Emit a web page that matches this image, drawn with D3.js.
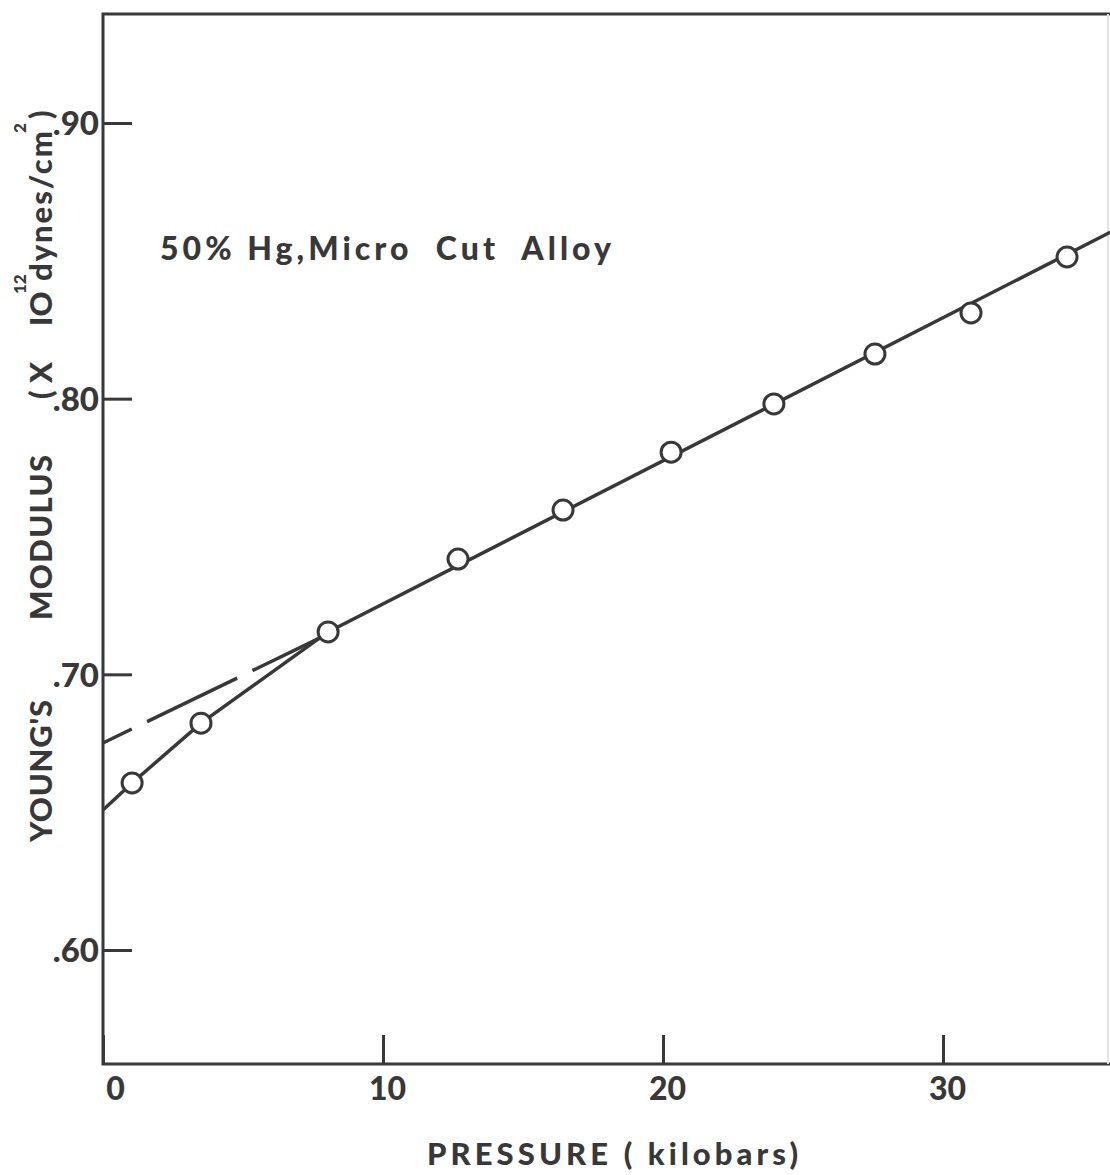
<!DOCTYPE html>
<html>
<head>
<meta charset="utf-8">
<script src="https://cdn.jsdelivr.net/npm/d3@7"></script>
<style>
  body { margin: 0; background: #fff; }
  text { font-family: Lato, "DejaVu Sans", sans-serif; font-weight: 900; fill: #383838; }
</style>
</head>
<body>
<div id="chart"></div>
<script>
// pressure (kilobars) and Young's modulus (x 10^12 dynes/cm^2) of the measured points
var pressure = [1.04, 3.5, 8.04, 12.68, 16.43, 20.29, 23.96, 27.57, 31.0, 34.43];
var modulus  = [0.6606, 0.6823, 0.7154, 0.7418, 0.7596, 0.7806, 0.7981, 0.8162, 0.8311, 0.8514];

// drawn curve through the points (solid) and the extrapolated straight part (dashed)
var fit_p = [0, 1.04, 3.5, 8.04, 36.0];
var fit_m = [0.6508, 0.6606, 0.6823, 0.7154, 0.8605];
var ext_p = [0, 7.75];
var ext_m = [0.6751, 0.7132];

var x_ticks = [0, 10, 20, 30];
var y_ticks = [0.60, 0.70, 0.80, 0.90];

var chart_width = 1110;
var chart_height = 1175;
var ink = '#383838';

var svg = d3.select('#chart')
    .append('svg')
    .attr('width', chart_width)
    .attr('height', chart_height);

// scales
var x_scale = d3.scaleLinear()
    .domain([0, 30])
    .range([103, 943]);

var y_scale = d3.scaleLinear()
    .domain([0.60, 0.90])
    .range([950, 123]);

var x_min = 0, x_max = x_scale.invert(1112);
var y_min = y_scale.invert(1064), y_max = y_scale.invert(14);

// frame
var frame = svg.append('g')
    .attr('fill', 'none')
    .attr('stroke', ink)
    .attr('stroke-width', 3);

frame.append('path')
    .attr('d', d3.line()([
        [x_scale(x_max), y_scale(y_max)],
        [x_scale(x_min), y_scale(y_max)],
        [x_scale(x_min), y_scale(y_min)],
        [x_scale(x_max), y_scale(y_min)]
    ]));

// faint right edge of the scan
svg.append('line')
    .attr('x1', 1108).attr('x2', 1108)
    .attr('y1', y_scale(y_max)).attr('y2', y_scale(y_min))
    .attr('stroke', '#e4e4e4')
    .attr('stroke-width', 2);

// axes
var x_axis = d3.axisBottom(x_scale)
    .tickValues(x_ticks)
    .tickSizeInner(-29)
    .tickSizeOuter(0)
    .tickPadding(13);

var gx = svg.append('g')
    .attr('transform', 'translate(0,' + y_scale(y_min) + ')')
    .call(x_axis);

gx.select('.domain').remove();
gx.selectAll('.tick line').attr('stroke', ink).attr('stroke-width', 3);
gx.selectAll('.tick text')
    .attr('font-size', 32)
    .attr('font-weight', 700)
    .attr('fill', ink)
    .attr('dx', function (d) { return d === 0 ? 12 : 4; });

var y_axis = d3.axisLeft(y_scale)
    .tickValues(y_ticks)
    .tickSizeInner(-29)
    .tickSizeOuter(0)
    .tickPadding(4)
    .tickFormat(function (d) { return d3.format('.2f')(d).replace(/^0/, ''); });

var gy = svg.append('g')
    .attr('transform', 'translate(' + x_scale(x_min) + ',0)')
    .call(y_axis);

gy.select('.domain').remove();
gy.selectAll('.tick line').attr('stroke', ink).attr('stroke-width', 3);
gy.selectAll('.tick text')
    .attr('font-size', 33)
    .attr('fill', ink)
    .attr('dy', '0.36em');

// lines
var line = d3.line()
    .x(function (d) { return x_scale(d[0]); })
    .y(function (d) { return y_scale(d[1]); });

svg.append('path')
    .datum(d3.zip(ext_p, ext_m))
    .attr('d', line)
    .attr('fill', 'none')
    .attr('stroke', ink)
    .attr('stroke-width', 3.5)
    .attr('stroke-dasharray', '100,17')
    .attr('stroke-dashoffset', 68);

svg.append('path')
    .datum(d3.zip(fit_p, fit_m))
    .attr('d', line)
    .attr('fill', 'none')
    .attr('stroke', ink)
    .attr('stroke-width', 3.5);

// points
svg.selectAll('circle')
    .data(d3.zip(pressure, modulus))
    .enter()
    .append('circle')
    .attr('cx', function (d) { return x_scale(d[0]); })
    .attr('cy', function (d) { return y_scale(d[1]); })
    .attr('r', 10)
    .attr('fill', '#fff')
    .attr('stroke', ink)
    .attr('stroke-width', 3);

// annotation
svg.append('text')
    .attr('x', 160)
    .attr('y', 260)
    .attr('font-size', 32)
    .attr('textLength', 451)
    .attr('lengthAdjust', 'spacing')
    .text('50% Hg,Micro  Cut  Alloy')
    .style('white-space', 'pre');

// x title
svg.append('text')
    .attr('x', 427)
    .attr('y', 1165)
    .attr('font-size', 31)
    .attr('textLength', 371)
    .attr('lengthAdjust', 'spacing')
    .text('PRESSURE ( kilobars)')
    .style('white-space', 'pre');

// y title, rotated, pieces placed along the left edge
var y_title = [
    { t: "YOUNG'S", y: 842, len: 142, size: 31, bx: 52 },
    { t: 'MODULUS', y: 620, len: 165, size: 31, bx: 52 },
    { t: '( X', y: 399, len: null, size: 31, bx: 52 },
    { t: 'IO', y: 326, len: null, size: 31, bx: 52 },
    { t: '12', y: 294, len: null, size: 17, bx: 26 },
    { t: 'dynes/cm', y: 281, len: 150, size: 31, bx: 52 },
    { t: '2', y: 133, len: null, size: 17, bx: 26 },
    { t: ')', y: 119, len: null, size: 31, bx: 52 }
];

svg.selectAll('.ytitle')
    .data(y_title)
    .enter()
    .append('text')
    .attr('class', 'ytitle')
    .attr('transform', function (d) { return 'translate(' + d.bx + ',' + d.y + ') rotate(-90)'; })
    .attr('font-size', function (d) { return d.size; })
    .attr('textLength', function (d) { return d.len; })
    .attr('lengthAdjust', 'spacing')
    .style('white-space', 'pre')
    .text(function (d) { return d.t; });
</script>
</body>
</html>
